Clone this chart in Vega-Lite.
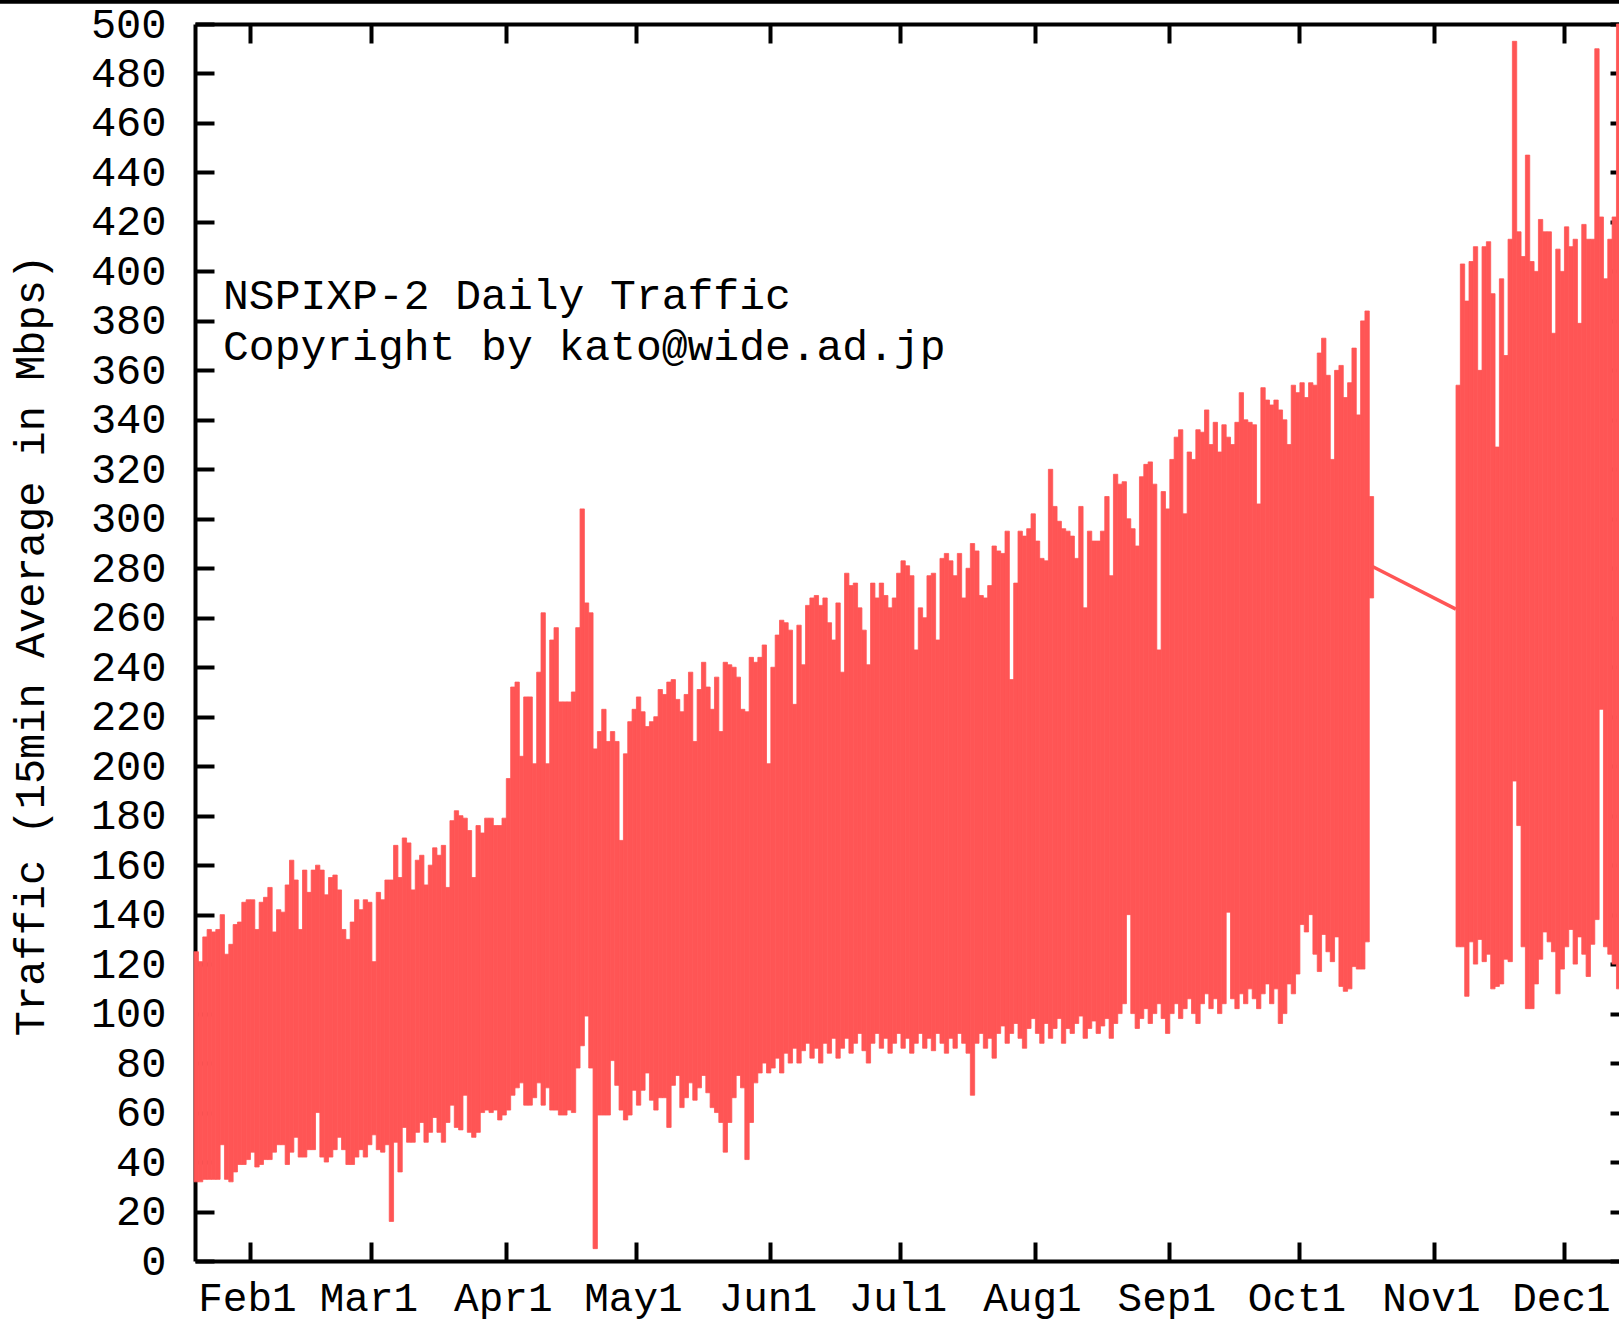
{
"$schema":"https://vega.github.io/schema/vega-lite/v6.json",
"width":1424,"height":1237,
"autosize":{"type":"none"},
"padding":{"left":195,"top":24,"right":0,"bottom":59},
"background":"white",
"config":{"view":{"stroke":null},"font":"Liberation Mono"},
"datasets":{
"traffic":[
{"d":"1999-01-19","lo":32,"hi":125},{"d":"1999-01-20","lo":32,"hi":121},{"d":"1999-01-21","lo":33,"hi":131},{"d":"1999-01-22","lo":33,"hi":134},{"d":"1999-01-23","lo":33,"hi":133},{"d":"1999-01-24","lo":33,"hi":134},{"d":"1999-01-25","lo":47,"hi":140},{"d":"1999-01-26","lo":33,"hi":124},{"d":"1999-01-27","lo":32,"hi":128},{"d":"1999-01-28","lo":36,"hi":136},{"d":"1999-01-29","lo":39,"hi":137},{"d":"1999-01-30","lo":39,"hi":145},{"d":"1999-01-31","lo":41,"hi":146},
{"d":"1999-02-01","lo":44,"hi":146},{"d":"1999-02-02","lo":38,"hi":134},{"d":"1999-02-03","lo":39,"hi":145},{"d":"1999-02-04","lo":41,"hi":147},{"d":"1999-02-05","lo":41,"hi":151},{"d":"1999-02-06","lo":44,"hi":133},{"d":"1999-02-07","lo":47,"hi":142},{"d":"1999-02-08","lo":47,"hi":141},{"d":"1999-02-09","lo":39,"hi":152},{"d":"1999-02-10","lo":44,"hi":162},{"d":"1999-02-11","lo":50,"hi":154},{"d":"1999-02-12","lo":42,"hi":134},{"d":"1999-02-13","lo":42,"hi":158},{"d":"1999-02-14","lo":45,"hi":149},{"d":"1999-02-15","lo":45,"hi":158},{"d":"1999-02-16","lo":60,"hi":160},{"d":"1999-02-17","lo":42,"hi":158},{"d":"1999-02-18","lo":40,"hi":148},{"d":"1999-02-19","lo":42,"hi":155},{"d":"1999-02-20","lo":45,"hi":156},{"d":"1999-02-21","lo":50,"hi":150},{"d":"1999-02-22","lo":45,"hi":134},{"d":"1999-02-23","lo":39,"hi":130},{"d":"1999-02-24","lo":39,"hi":137},{"d":"1999-02-25","lo":42,"hi":146},{"d":"1999-02-26","lo":45,"hi":142},{"d":"1999-02-27","lo":42,"hi":146},{"d":"1999-02-28","lo":47,"hi":145},
{"d":"1999-03-01","lo":51,"hi":121},{"d":"1999-03-02","lo":45,"hi":149},{"d":"1999-03-03","lo":44,"hi":146},{"d":"1999-03-04","lo":47,"hi":154},{"d":"1999-03-05","lo":16,"hi":154},{"d":"1999-03-06","lo":48,"hi":168},{"d":"1999-03-07","lo":36,"hi":155},{"d":"1999-03-08","lo":54,"hi":171},{"d":"1999-03-09","lo":48,"hi":169},{"d":"1999-03-10","lo":48,"hi":150},{"d":"1999-03-11","lo":52,"hi":162},{"d":"1999-03-12","lo":56,"hi":164},{"d":"1999-03-13","lo":48,"hi":152},{"d":"1999-03-14","lo":52,"hi":160},{"d":"1999-03-15","lo":58,"hi":167},{"d":"1999-03-16","lo":52,"hi":164},{"d":"1999-03-17","lo":48,"hi":168},{"d":"1999-03-18","lo":56,"hi":151},{"d":"1999-03-19","lo":63,"hi":178},{"d":"1999-03-20","lo":54,"hi":182},{"d":"1999-03-21","lo":53,"hi":180},{"d":"1999-03-22","lo":67,"hi":179},{"d":"1999-03-23","lo":52,"hi":174},{"d":"1999-03-24","lo":50,"hi":155},{"d":"1999-03-25","lo":52,"hi":176},{"d":"1999-03-26","lo":60,"hi":173},{"d":"1999-03-27","lo":61,"hi":179},{"d":"1999-03-28","lo":60,"hi":179},{"d":"1999-03-29","lo":61,"hi":176},{"d":"1999-03-30","lo":57,"hi":176},{"d":"1999-03-31","lo":59,"hi":179},
{"d":"1999-04-01","lo":61,"hi":195},{"d":"1999-04-02","lo":67,"hi":232},{"d":"1999-04-03","lo":70,"hi":234},{"d":"1999-04-04","lo":72,"hi":204},{"d":"1999-04-05","lo":63,"hi":228},{"d":"1999-04-06","lo":63,"hi":228},{"d":"1999-04-07","lo":66,"hi":201},{"d":"1999-04-08","lo":72,"hi":238},{"d":"1999-04-09","lo":63,"hi":262},{"d":"1999-04-10","lo":70,"hi":201},{"d":"1999-04-11","lo":61,"hi":251},{"d":"1999-04-12","lo":61,"hi":256},{"d":"1999-04-13","lo":59,"hi":226},{"d":"1999-04-14","lo":59,"hi":226},{"d":"1999-04-15","lo":61,"hi":226},{"d":"1999-04-16","lo":60,"hi":230},{"d":"1999-04-17","lo":78,"hi":256},{"d":"1999-04-18","lo":87,"hi":304},{"d":"1999-04-19","lo":99,"hi":266},{"d":"1999-04-20","lo":78,"hi":262},{"d":"1999-04-21","lo":5,"hi":207},{"d":"1999-04-22","lo":59,"hi":214},{"d":"1999-04-23","lo":59,"hi":223},{"d":"1999-04-24","lo":59,"hi":210},{"d":"1999-04-25","lo":81,"hi":214},{"d":"1999-04-26","lo":71,"hi":210},{"d":"1999-04-27","lo":61,"hi":170},{"d":"1999-04-28","lo":57,"hi":205},{"d":"1999-04-29","lo":59,"hi":218},{"d":"1999-04-30","lo":69,"hi":223},
{"d":"1999-05-01","lo":63,"hi":228},{"d":"1999-05-02","lo":69,"hi":222},{"d":"1999-05-03","lo":76,"hi":216},{"d":"1999-05-04","lo":65,"hi":218},{"d":"1999-05-05","lo":61,"hi":220},{"d":"1999-05-06","lo":66,"hi":231},{"d":"1999-05-07","lo":66,"hi":229},{"d":"1999-05-08","lo":54,"hi":234},{"d":"1999-05-09","lo":71,"hi":235},{"d":"1999-05-10","lo":75,"hi":227},{"d":"1999-05-11","lo":62,"hi":222},{"d":"1999-05-12","lo":66,"hi":229},{"d":"1999-05-13","lo":72,"hi":238},{"d":"1999-05-14","lo":65,"hi":210},{"d":"1999-05-15","lo":70,"hi":231},{"d":"1999-05-16","lo":75,"hi":242},{"d":"1999-05-17","lo":68,"hi":232},{"d":"1999-05-18","lo":62,"hi":223},{"d":"1999-05-19","lo":60,"hi":236},{"d":"1999-05-20","lo":56,"hi":214},{"d":"1999-05-21","lo":44,"hi":242},{"d":"1999-05-22","lo":56,"hi":241},{"d":"1999-05-23","lo":66,"hi":240},{"d":"1999-05-24","lo":75,"hi":236},{"d":"1999-05-25","lo":70,"hi":223},{"d":"1999-05-26","lo":41,"hi":222},{"d":"1999-05-27","lo":56,"hi":244},{"d":"1999-05-28","lo":72,"hi":242},{"d":"1999-05-29","lo":76,"hi":244},{"d":"1999-05-30","lo":80,"hi":249},{"d":"1999-05-31","lo":76,"hi":201},
{"d":"1999-06-01","lo":78,"hi":240},{"d":"1999-06-02","lo":82,"hi":253},{"d":"1999-06-03","lo":76,"hi":259},{"d":"1999-06-04","lo":84,"hi":258},{"d":"1999-06-05","lo":80,"hi":255},{"d":"1999-06-06","lo":86,"hi":225},{"d":"1999-06-07","lo":80,"hi":257},{"d":"1999-06-08","lo":85,"hi":241},{"d":"1999-06-09","lo":88,"hi":265},{"d":"1999-06-10","lo":82,"hi":268},{"d":"1999-06-11","lo":86,"hi":269},{"d":"1999-06-12","lo":80,"hi":265},{"d":"1999-06-13","lo":88,"hi":268},{"d":"1999-06-14","lo":84,"hi":258},{"d":"1999-06-15","lo":90,"hi":251},{"d":"1999-06-16","lo":82,"hi":266},{"d":"1999-06-17","lo":86,"hi":238},{"d":"1999-06-18","lo":90,"hi":278},{"d":"1999-06-19","lo":84,"hi":273},{"d":"1999-06-20","lo":88,"hi":274},{"d":"1999-06-21","lo":92,"hi":264},{"d":"1999-06-22","lo":85,"hi":255},{"d":"1999-06-23","lo":80,"hi":241},{"d":"1999-06-24","lo":88,"hi":274},{"d":"1999-06-25","lo":92,"hi":268},{"d":"1999-06-26","lo":86,"hi":274},{"d":"1999-06-27","lo":90,"hi":269},{"d":"1999-06-28","lo":84,"hi":264},{"d":"1999-06-29","lo":88,"hi":268},{"d":"1999-06-30","lo":92,"hi":278},
{"d":"1999-07-01","lo":86,"hi":283},{"d":"1999-07-02","lo":90,"hi":281},{"d":"1999-07-03","lo":84,"hi":277},{"d":"1999-07-04","lo":88,"hi":247},{"d":"1999-07-05","lo":92,"hi":264},{"d":"1999-07-06","lo":86,"hi":260},{"d":"1999-07-07","lo":90,"hi":277},{"d":"1999-07-08","lo":85,"hi":278},{"d":"1999-07-09","lo":92,"hi":251},{"d":"1999-07-10","lo":88,"hi":284},{"d":"1999-07-11","lo":84,"hi":286},{"d":"1999-07-12","lo":90,"hi":283},{"d":"1999-07-13","lo":86,"hi":277},{"d":"1999-07-14","lo":92,"hi":286},{"d":"1999-07-15","lo":88,"hi":268},{"d":"1999-07-16","lo":84,"hi":280},{"d":"1999-07-17","lo":67,"hi":290},{"d":"1999-07-18","lo":88,"hi":287},{"d":"1999-07-19","lo":92,"hi":269},{"d":"1999-07-20","lo":86,"hi":268},{"d":"1999-07-21","lo":90,"hi":273},{"d":"1999-07-22","lo":82,"hi":289},{"d":"1999-07-23","lo":92,"hi":287},{"d":"1999-07-24","lo":95,"hi":286},{"d":"1999-07-25","lo":88,"hi":295},{"d":"1999-07-26","lo":92,"hi":235},{"d":"1999-07-27","lo":96,"hi":274},{"d":"1999-07-28","lo":90,"hi":295},{"d":"1999-07-29","lo":86,"hi":293},{"d":"1999-07-30","lo":94,"hi":296},{"d":"1999-07-31","lo":98,"hi":302},
{"d":"1999-08-01","lo":92,"hi":291},{"d":"1999-08-02","lo":88,"hi":284},{"d":"1999-08-03","lo":96,"hi":283},{"d":"1999-08-04","lo":90,"hi":320},{"d":"1999-08-05","lo":94,"hi":305},{"d":"1999-08-06","lo":98,"hi":299},{"d":"1999-08-07","lo":88,"hi":296},{"d":"1999-08-08","lo":94,"hi":295},{"d":"1999-08-09","lo":92,"hi":293},{"d":"1999-08-10","lo":96,"hi":284},{"d":"1999-08-11","lo":99,"hi":305},{"d":"1999-08-12","lo":90,"hi":264},{"d":"1999-08-13","lo":94,"hi":295},{"d":"1999-08-14","lo":97,"hi":291},{"d":"1999-08-15","lo":92,"hi":291},{"d":"1999-08-16","lo":95,"hi":295},{"d":"1999-08-17","lo":98,"hi":309},{"d":"1999-08-18","lo":90,"hi":277},{"d":"1999-08-19","lo":96,"hi":318},{"d":"1999-08-20","lo":100,"hi":314},{"d":"1999-08-21","lo":104,"hi":315},{"d":"1999-08-22","lo":140,"hi":300},{"d":"1999-08-23","lo":100,"hi":296},{"d":"1999-08-24","lo":94,"hi":289},{"d":"1999-08-25","lo":98,"hi":317},{"d":"1999-08-26","lo":102,"hi":322},{"d":"1999-08-27","lo":96,"hi":323},{"d":"1999-08-28","lo":100,"hi":314},{"d":"1999-08-29","lo":104,"hi":247},{"d":"1999-08-30","lo":98,"hi":311},{"d":"1999-08-31","lo":92,"hi":304},
{"d":"1999-09-01","lo":100,"hi":324},{"d":"1999-09-02","lo":104,"hi":333},{"d":"1999-09-03","lo":98,"hi":336},{"d":"1999-09-04","lo":102,"hi":302},{"d":"1999-09-05","lo":106,"hi":327},{"d":"1999-09-06","lo":100,"hi":324},{"d":"1999-09-07","lo":96,"hi":336},{"d":"1999-09-08","lo":104,"hi":335},{"d":"1999-09-09","lo":108,"hi":344},{"d":"1999-09-10","lo":102,"hi":330},{"d":"1999-09-11","lo":106,"hi":339},{"d":"1999-09-12","lo":100,"hi":327},{"d":"1999-09-13","lo":104,"hi":338},{"d":"1999-09-14","lo":141,"hi":333},{"d":"1999-09-15","lo":106,"hi":330},{"d":"1999-09-16","lo":102,"hi":339},{"d":"1999-09-17","lo":108,"hi":351},{"d":"1999-09-18","lo":104,"hi":340},{"d":"1999-09-19","lo":110,"hi":339},{"d":"1999-09-20","lo":106,"hi":338},{"d":"1999-09-21","lo":102,"hi":306},{"d":"1999-09-22","lo":108,"hi":353},{"d":"1999-09-23","lo":112,"hi":348},{"d":"1999-09-24","lo":104,"hi":346},{"d":"1999-09-25","lo":110,"hi":348},{"d":"1999-09-26","lo":96,"hi":344},{"d":"1999-09-27","lo":100,"hi":340},{"d":"1999-09-28","lo":112,"hi":330},{"d":"1999-09-29","lo":108,"hi":354},{"d":"1999-09-30","lo":116,"hi":351},
{"d":"1999-10-01","lo":136,"hi":355},{"d":"1999-10-02","lo":133,"hi":349},{"d":"1999-10-03","lo":140,"hi":355},{"d":"1999-10-04","lo":124,"hi":354},{"d":"1999-10-05","lo":117,"hi":367},{"d":"1999-10-06","lo":132,"hi":373},{"d":"1999-10-07","lo":125,"hi":358},{"d":"1999-10-08","lo":121,"hi":324},{"d":"1999-10-09","lo":131,"hi":360},{"d":"1999-10-10","lo":111,"hi":362},{"d":"1999-10-11","lo":109,"hi":349},{"d":"1999-10-12","lo":110,"hi":355},{"d":"1999-10-13","lo":119,"hi":369},{"d":"1999-10-14","lo":118,"hi":342},{"d":"1999-10-15","lo":118,"hi":380},{"d":"1999-10-16","lo":129,"hi":384},{"d":"1999-10-17","lo":268,"hi":309},
{"d":"1999-11-06","lo":127,"hi":354},{"d":"1999-11-07","lo":127,"hi":403},{"d":"1999-11-08","lo":107,"hi":388},{"d":"1999-11-09","lo":129,"hi":404},{"d":"1999-11-10","lo":120,"hi":410},{"d":"1999-11-11","lo":130,"hi":360},{"d":"1999-11-12","lo":121,"hi":410},{"d":"1999-11-13","lo":124,"hi":412},{"d":"1999-11-14","lo":110,"hi":391},{"d":"1999-11-15","lo":111,"hi":329},{"d":"1999-11-16","lo":112,"hi":397},{"d":"1999-11-17","lo":122,"hi":366},{"d":"1999-11-18","lo":121,"hi":413},{"d":"1999-11-19","lo":194,"hi":493},{"d":"1999-11-20","lo":176,"hi":416},{"d":"1999-11-21","lo":127,"hi":406},{"d":"1999-11-22","lo":102,"hi":447},{"d":"1999-11-23","lo":102,"hi":404},{"d":"1999-11-24","lo":112,"hi":400},{"d":"1999-11-25","lo":122,"hi":421},{"d":"1999-11-26","lo":133,"hi":416},{"d":"1999-11-27","lo":129,"hi":416},{"d":"1999-11-28","lo":125,"hi":375},{"d":"1999-11-29","lo":108,"hi":409},{"d":"1999-11-30","lo":118,"hi":400},
{"d":"1999-12-01","lo":127,"hi":418},{"d":"1999-12-02","lo":134,"hi":410},{"d":"1999-12-03","lo":120,"hi":413},{"d":"1999-12-04","lo":131,"hi":379},{"d":"1999-12-05","lo":124,"hi":419},{"d":"1999-12-06","lo":115,"hi":413},{"d":"1999-12-07","lo":128,"hi":413},{"d":"1999-12-08","lo":138,"hi":490},{"d":"1999-12-09","lo":223,"hi":422},{"d":"1999-12-10","lo":127,"hi":397},{"d":"1999-12-11","lo":124,"hi":413},{"d":"1999-12-12","lo":120,"hi":422},{"d":"1999-12-13","lo":110,"hi":500}
],
"gap":[{"t":"1999-10-17T12:00:00Z","v":281},{"t":"1999-11-06T02:00:00Z","v":263.5}],
"one":[{}]
},
"layer":[
{"data":{"name":"traffic"},
 "mark":{"type":"bar","color":"#ff5555","stroke":"#ff5555","strokeWidth":0.8,"binSpacing":0},
 "encoding":{
  "x":{"field":"d","type":"temporal","timeUnit":"utcyearmonthdate",
   "scale":{"type":"utc","domain":[{"year":1999,"month":1,"date":19,"hours":7,"minutes":45,"utc":true},{"year":1999,"month":12,"date":13,"hours":16,"minutes":48,"utc":true}],"nice":false},
   "axis":{"orient":"bottom","title":null,"grid":false,
    "values":[{"year":1999,"month":2,"date":1,"utc":true},{"year":1999,"month":3,"date":1,"utc":true},{"year":1999,"month":4,"date":1,"utc":true},{"year":1999,"month":5,"date":1,"utc":true},{"year":1999,"month":6,"date":1,"utc":true},{"year":1999,"month":7,"date":1,"utc":true},{"year":1999,"month":8,"date":1,"utc":true},{"year":1999,"month":9,"date":1,"utc":true},{"year":1999,"month":10,"date":1,"utc":true},{"year":1999,"month":11,"date":1,"utc":true},{"year":1999,"month":12,"date":1,"utc":true}],
    "labelExpr":"utcFormat(datum.value, '%b%-d')",
    "tickSize":-19,"tickWidth":4,"tickColor":"black","domainWidth":4,"domainColor":"black",
    "labelFont":"Liberation Mono","labelFontSize":41,"labelFontWeight":"normal","labelColor":"black",
    "labelPadding":56,"labelOffset":-3,"labelBaseline":"middle","labelAngle":0,"labelFlush":false,"labelOverlap":false}},
  "y":{"field":"lo","type":"quantitative","scale":{"domain":[0,500],"nice":false},
   "axis":{"orient":"left","grid":false,"values":[0,20,40,60,80,100,120,140,160,180,200,220,240,260,280,300,320,340,360,380,400,420,440,460,480,500],
    "tickSize":-19,"tickWidth":4,"tickColor":"black","domainWidth":4,"domainColor":"black",
    "labelFont":"Liberation Mono","labelFontSize":42,"labelFontWeight":"normal","labelColor":"black",
    "labelPadding":48,"labelFlush":false,"labelOverlap":false,"labelBaseline":"middle",
    "title":"Traffic (15min Average in Mbps)","titleFont":"Liberation Mono","titleFontSize":42,"titleFontWeight":"normal","titleColor":"black",
    "titleAngle":-90,"titleAlign":"center","titleBaseline":"alphabetic","titleX":-152,"titleY":621}},
  "y2":{"field":"hi"}
 }},
{"data":{"name":"gap"},
 "mark":{"type":"line","color":"#ff5555","strokeWidth":3.5},
 "encoding":{
  "x":{"field":"t","type":"temporal","timeUnit":"utcyearmonthdatehoursminutes",
   "axis":{"orient":"top","title":null,"grid":false,"labels":false,
    "values":[{"year":1999,"month":2,"date":1,"utc":true},{"year":1999,"month":3,"date":1,"utc":true},{"year":1999,"month":4,"date":1,"utc":true},{"year":1999,"month":5,"date":1,"utc":true},{"year":1999,"month":6,"date":1,"utc":true},{"year":1999,"month":7,"date":1,"utc":true},{"year":1999,"month":8,"date":1,"utc":true},{"year":1999,"month":9,"date":1,"utc":true},{"year":1999,"month":10,"date":1,"utc":true},{"year":1999,"month":11,"date":1,"utc":true},{"year":1999,"month":12,"date":1,"utc":true}],
    "tickSize":-19,"tickWidth":4,"tickColor":"black","domainWidth":4,"domainColor":"black"}},
  "y":{"field":"v","type":"quantitative",
   "axis":{"orient":"right","title":null,"grid":false,"labels":false,"domain":false,
    "values":[0,20,40,60,80,100,120,140,160,180,200,220,240,260,280,300,320,340,360,380,400,420,440,460,480,500],
    "tickSize":-9,"tickWidth":4,"tickColor":"black"}}
 }},
{"data":{"name":"one"},
 "mark":{"type":"text","text":"NSPIXP-2 Daily Traffic","align":"left","baseline":"alphabetic","font":"Liberation Mono","fontSize":43,"color":"black"},
 "encoding":{"x":{"datum":{"year":1999,"month":1,"date":25,"hours":19,"utc":true},"type":"temporal","axis":null},"y":{"datum":385,"type":"quantitative","axis":null}}},
{"data":{"name":"one"},
 "mark":{"type":"text","text":"Copyright by kato@wide.ad.jp","align":"left","baseline":"alphabetic","font":"Liberation Mono","fontSize":43,"color":"black"},
 "encoding":{"x":{"datum":{"year":1999,"month":1,"date":25,"hours":19,"utc":true},"type":"temporal","axis":null},"y":{"datum":364,"type":"quantitative","axis":null}}},
{"data":{"name":"one"},
 "mark":{"type":"rule","color":"black","strokeWidth":4,"clip":false},
 "encoding":{"x":{"datum":{"year":1998,"month":11,"date":1,"utc":true},"type":"temporal","axis":null},"x2":{"datum":{"year":2000,"month":3,"date":1,"utc":true}},"y":{"datum":509,"type":"quantitative","axis":null}}}
],
"resolve":{"axis":{"x":"independent","y":"independent"}}
}
